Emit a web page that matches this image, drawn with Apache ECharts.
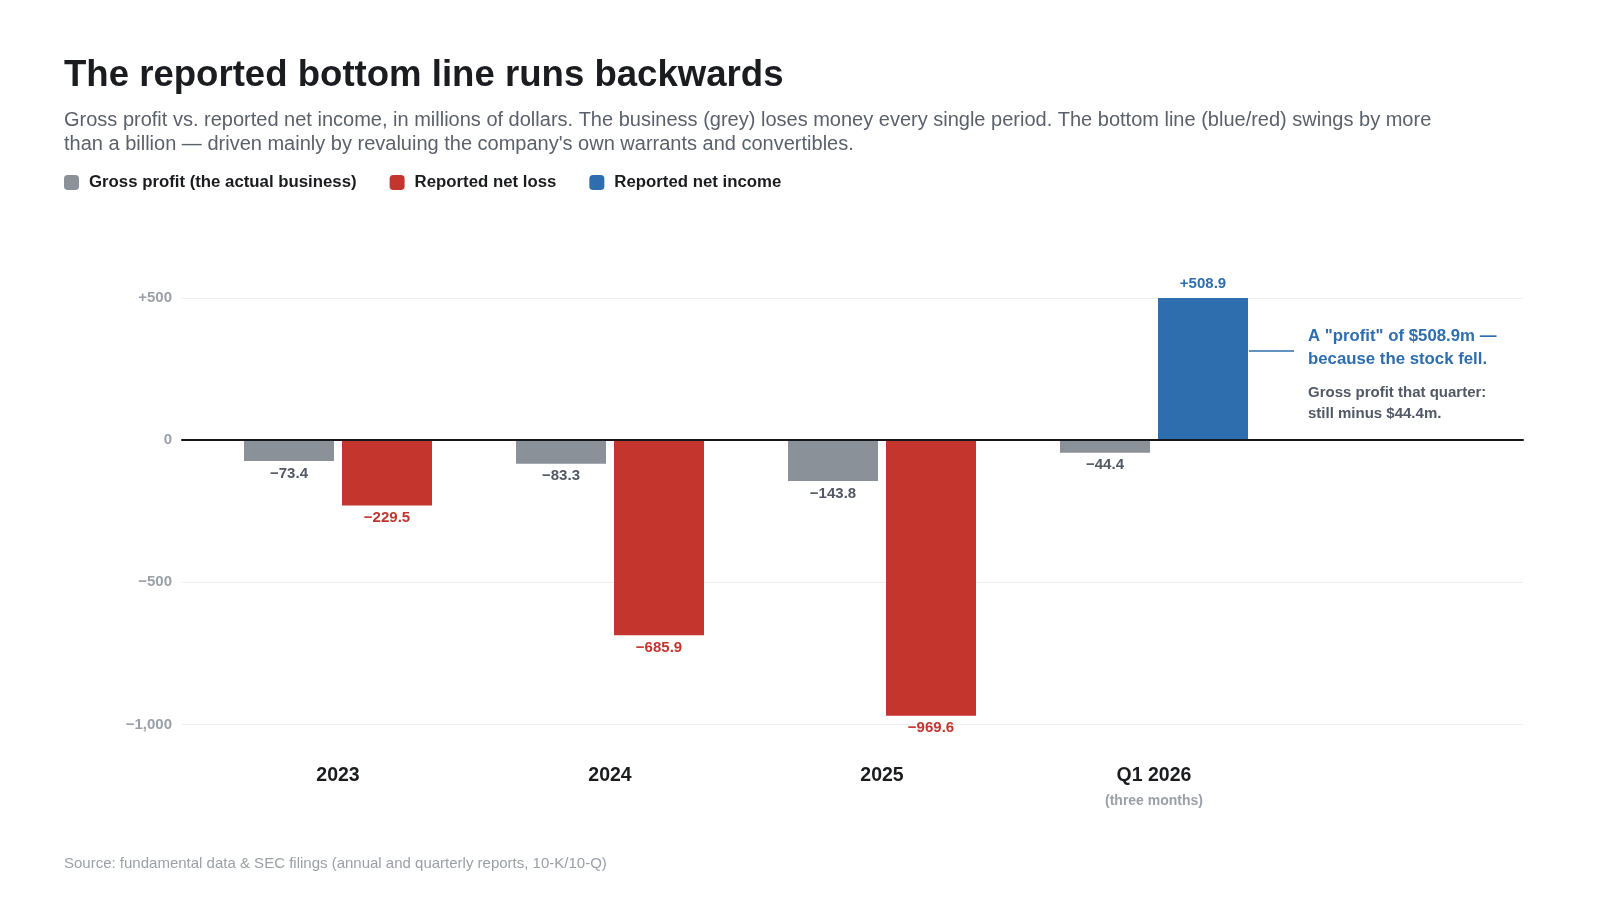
<!DOCTYPE html>
<html>
<head>
<meta charset="utf-8">
<title>The reported bottom line runs backwards</title>
<script src="https://cdn.jsdelivr.net/npm/echarts@6/dist/echarts.min.js"></script>
<style>
  html, body { margin: 0; padding: 0; background: #ffffff; }
  #chart { width: 1600px; height: 900px; }
</style>
</head>
<body>
<div id="chart"></div>
<script>
// periods and values, in millions of dollars
var periods = ['2023', '2024', '2025', 'Q1 2026'];
var grossProfit = [-73.4, -83.3, -143.8, -44.4];
var netIncome = [-229.5, -685.9, -969.6, 508.9];
var yTicks = [-1000, -500, 0, 500];

var FONT = '"Liberation Sans", Arial, Helvetica, sans-serif';
var GREY = '#8a9199', RED = '#c4352d', BLUE = '#2f6eae';

// split the bottom line by sign so loss and income get their own colour/legend
var netLoss = netIncome.map(function (v) { return v < 0 ? v : '-'; });
var netGain = netIncome.map(function (v) { return v >= 0 ? v : '-'; });

function fmt(v) {
  var s = Math.abs(v).toLocaleString('en-US');
  if (v > 0) return '+' + s;
  if (v < 0) return '\u2212' + s;
  return '0';
}

var yMin = yTicks[0], yMax = yTicks[yTicks.length - 1];
var plotTop = 298, plotHeight = 426.5;

var chart = echarts.init(document.getElementById('chart'));
chart.setOption({
  animation: false,
  textStyle: { fontFamily: FONT },
  title: [
    {
      text: 'The reported bottom line runs backwards',
      left: 64, top: 57, padding: 0,
      textStyle: { fontSize: 36.6, fontWeight: 'bold', color: '#1b1c1f', fontFamily: FONT }
    },
    {
      text: 'Gross profit vs. reported net income, in millions of dollars. The business (grey) loses money every single period. The bottom line (blue/red) swings by more\nthan a billion \u2014 driven mainly by revaluing the company\'s own warrants and convertibles.',
      left: 64, top: 109, padding: 0,
      textStyle: { fontSize: 20, fontWeight: 'normal', color: '#5b616b', lineHeight: 23.5, fontFamily: FONT }
    },
    {
      text: 'Source: fundamental data & SEC filings (annual and quarterly reports, 10-K/10-Q)',
      left: 64, top: 856, padding: 0,
      textStyle: { fontSize: 15, fontWeight: 'normal', color: '#9ba0a8', fontFamily: FONT }
    }
  ],
  legend: {
    left: 64, top: 174, padding: 0,
    icon: 'roundRect',
    itemWidth: 15, itemHeight: 15, itemGap: 33,
    selectedMode: false,
    data: ['Gross profit (the actual business)', 'Reported net loss', 'Reported net income'],
    textStyle: { fontSize: 16.8, fontWeight: 'bold', color: '#1b1c1f', padding: [0, 0, 0, 5] }
  },
  grid: [
    { left: 182, right: 77, top: plotTop, height: plotHeight },
    { left: 202, width: 1088, top: plotTop, height: plotHeight }
  ],
  xAxis: [
    {
      gridIndex: 0, type: 'category', data: [''], z: 10,
      axisLine: { onZero: true, lineStyle: { color: '#16171a', width: 2 } },
      axisTick: { show: false }, axisLabel: { show: false }, splitLine: { show: false }
    },
    {
      gridIndex: 1, type: 'category', data: periods,
      axisLine: { show: false }, axisTick: { show: false },
      axisLabel: {
        margin: 40,
        formatter: function (v) {
          return v === 'Q1 2026' ? '{a|' + v + '}\n{b|(three months)}' : '{a|' + v + '}';
        },
        rich: {
          a: { fontSize: 19.5, fontWeight: 'bold', color: '#1b1c1f', lineHeight: 22, fontFamily: FONT },
          b: { fontSize: 14, fontWeight: 'bold', color: '#9ba0a8', lineHeight: 30, fontFamily: FONT }
        }
      }
    }
  ],
  yAxis: [
    {
      gridIndex: 0, type: 'value', min: yMin, max: yMax, interval: 500,
      axisLine: { show: false }, axisTick: { show: false },
      axisLabel: {
        margin: 10, fontSize: 15, fontWeight: 'bold', color: '#9ba0a8',
        formatter: fmt
      },
      splitLine: { lineStyle: { color: '#efefef', width: 1 } }
    },
    {
      gridIndex: 1, type: 'value', min: yMin, max: yMax, interval: 500,
      show: false, splitLine: { show: false }
    }
  ],
  series: [
    {
      name: 'Gross profit (the actual business)', type: 'bar',
      xAxisIndex: 1, yAxisIndex: 1,
      barWidth: 90, barGap: '8.9%',
      itemStyle: { color: GREY },
      label: {
        show: true, position: 'bottom', distance: 5,
        fontSize: 15, fontWeight: 'bold', color: '#525965',
        formatter: function (p) { return fmt(p.value); }
      },
      data: grossProfit
    },
    {
      name: 'Reported net loss', type: 'bar', stack: 'net',
      xAxisIndex: 1, yAxisIndex: 1,
      barWidth: 90,
      itemStyle: { color: RED },
      label: {
        show: true, position: 'bottom', distance: 5,
        fontSize: 15, fontWeight: 'bold', color: RED,
        formatter: function (p) { return fmt(p.value); }
      },
      data: netLoss
    },
    {
      name: 'Reported net income', type: 'bar', stack: 'net',
      xAxisIndex: 1, yAxisIndex: 1,
      barWidth: 90,
      itemStyle: { color: BLUE },
      label: {
        show: true, position: 'top', distance: 7,
        fontSize: 15, fontWeight: 'bold', color: BLUE,
        formatter: function (p) { return fmt(p.value); }
      },
      data: netGain
    }
  ],
  graphic: [
    {
      type: 'line', z: 5,
      shape: { x1: 1249, y1: 351, x2: 1294, y2: 351 },
      style: { stroke: BLUE, lineWidth: 1.5 }
    },
    {
      type: 'text', left: 1308, top: 325,
      style: {
        text: 'A "profit" of $508.9m \u2014\nbecause the stock fell.',
        font: 'bold 16.8px ' + FONT, fill: BLUE, lineHeight: 23
      }
    },
    {
      type: 'text', left: 1308, top: 382,
      style: {
        text: 'Gross profit that quarter:\nstill minus $44.4m.',
        font: 'bold 15px ' + FONT, fill: '#525965', lineHeight: 21
      }
    }
  ]
});
</script>
</body>
</html>
